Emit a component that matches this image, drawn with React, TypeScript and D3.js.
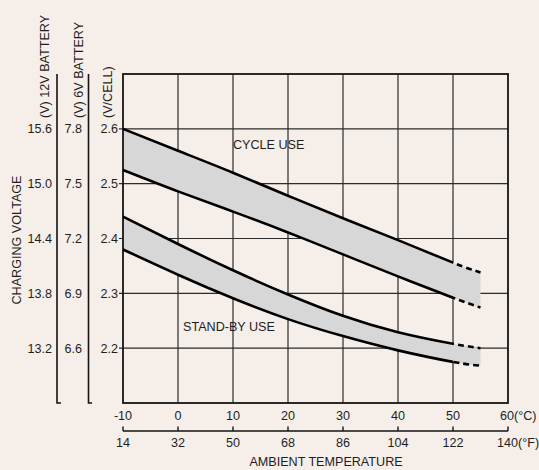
import React from "react";
import * as d3 from "d3";

const temps = [-10, 0, 10, 20, 30, 40, 50, 55];
const cycleUpper = [2.6, 2.56, 2.52, 2.478, 2.437, 2.397, 2.356, 2.338];
const cycleLower = [2.525, 2.486, 2.449, 2.411, 2.371, 2.331, 2.292, 2.274];
const standbyUpper = [2.44, 2.39, 2.342, 2.298, 2.259, 2.229, 2.208, 2.2];
const standbyLower = [2.38, 2.334, 2.291, 2.253, 2.222, 2.196, 2.175, 2.168];

const cTicks = [-10, 0, 10, 20, 30, 40, 50, 60];
const fTicks = ["14", "32", "50", "68", "86", "104", "122", "140"];
const cellTicks = [2.6, 2.5, 2.4, 2.3, 2.2];
const v12Ticks = ["15.6", "15.0", "14.4", "13.8", "13.2"];
const v6Ticks = ["7.8", "7.5", "7.2", "6.9", "6.6"];

const W = 539;
const H = 470;
const FONT = "'Liberation Sans', Arial, Helvetica, sans-serif";
const TXT = "#1e1e1e";
const FS = 12.6;

export default function App() {
  const x = d3.scaleLinear().domain([-10, 60]).range([123, 508]);
  const y = d3.scaleLinear().domain([2.1, 2.7]).range([403, 74]);

  const pts = (vals: number[]) => temps.map((t, i) => [t, vals[i]] as [number, number]);

  const line = d3
    .line<[number, number]>()
    .x((d) => x(d[0]))
    .y((d) => y(d[1]))
    .curve(d3.curveNatural);

  const band = (up: number[], lo: number[]) =>
    d3
      .area<number>()
      .x((_, i) => x(temps[i]))
      .y0((_, i) => y(lo[i]))
      .y1((_, i) => y(up[i]))
      .curve(d3.curveNatural)(temps.map((_, i) => i)) || "";

  const series = [cycleUpper, cycleLower, standbyUpper, standbyLower];
  const xSplit = x(50);

  return (
    <svg
      width={W}
      height={H}
      style={{ position: "absolute", left: 0, top: 0, display: "block" }}
      fontFamily={FONT}
    >
      <defs>
        <clipPath id="solidClip">
          <rect x={0} y={0} width={xSplit} height={H} />
        </clipPath>
        <clipPath id="dashClip">
          <rect x={xSplit} y={0} width={W - xSplit} height={H} />
        </clipPath>
      </defs>
      <rect x={0} y={0} width={W} height={H} fill="#f6eee8" />

      {/* grid */}
      {cTicks.slice(1, -1).map((t) => (
        <line key={"v" + t} x1={x(t)} x2={x(t)} y1={y(2.7)} y2={y(2.1)} stroke="#2b2b2b" strokeWidth={1.2} />
      ))}
      {cellTicks.map((v) => (
        <line key={"h" + v} x1={x(-10) - 4} x2={x(60)} y1={y(v)} y2={y(v)} stroke="#2b2b2b" strokeWidth={1.2} />
      ))}

      {/* bands */}
      <path d={band(cycleUpper, cycleLower)} fill="#d7d7d7" />
      <path d={band(standbyUpper, standbyLower)} fill="#d7d7d7" />

      {/* frame */}
      <rect x={x(-10)} y={y(2.7)} width={x(60) - x(-10)} height={y(2.1) - y(2.7)} fill="none" stroke="#151515" strokeWidth={1.8} />

      {/* curves */}
      {series.map((s, i) => (
        <g key={"s" + i}>
          <path d={line(pts(s)) || ""} fill="none" stroke="#000" strokeWidth={2.6} clipPath="url(#solidClip)" />
          <path d={line(pts(s)) || ""} fill="none" stroke="#000" strokeWidth={2.6} strokeDasharray="6,4" clipPath="url(#dashClip)" />
        </g>
      ))}

      <text x={233} y={149} fontSize={FS} fill={TXT}>CYCLE USE</text>
      <text x={183} y={331} fontSize={FS} fill={TXT}>STAND-BY USE</text>

      {/* left axes */}
      <path d={`M57,${y(2.7)}V${y(2.1)}H61`} fill="none" stroke="#151515" strokeWidth={1.6} />
      <path d={`M88.5,${y(2.7)}V${y(2.1)}H92`} fill="none" stroke="#151515" strokeWidth={1.6} />
      {cellTicks.map((v, i) => (
        <g key={"l" + v}>
          <text x={52} y={y(v)} dy="0.35em" textAnchor="end" fontSize={FS} fill={TXT}>{v12Ticks[i]}</text>
          <text x={82} y={y(v)} dy="0.35em" textAnchor="end" fontSize={FS} fill={TXT}>{v6Ticks[i]}</text>
          <text x={118} y={y(v)} dy="0.35em" textAnchor="end" fontSize={FS} fill={TXT}>{v.toFixed(1)}</text>
        </g>
      ))}
      <text transform="translate(45,118) rotate(-90)" dy="0.35em" textAnchor="start" fontSize={FS} fill={TXT}>(V) 12V BATTERY</text>
      <text transform="translate(79,118) rotate(-90)" dy="0.35em" textAnchor="start" fontSize={FS} fill={TXT}>(V) 6V BATTERY</text>
      <text transform="translate(108,118) rotate(-90)" dy="0.35em" textAnchor="start" fontSize={FS} fill={TXT}>(V/CELL)</text>
      <text transform="translate(17,240) rotate(-90)" dy="0.35em" textAnchor="middle" fontSize={FS} fill={TXT}>CHARGING VOLTAGE</text>

      {/* bottom axes */}
      {cTicks.map((t) =>
        t === 60 ? (
          <text key={"c" + t} x={x(t) - 8} y={416} dy="0.35em" fontSize={FS} fill={TXT}>60(°C)</text>
        ) : (
          <text key={"c" + t} x={x(t)} y={416} dy="0.35em" textAnchor="middle" fontSize={FS} fill={TXT}>{t}</text>
        )
      )}
      <line x1={x(-10)} x2={x(60)} y1={431} y2={431} stroke="#151515" strokeWidth={1.4} />
      {cTicks.map((t) => (
        <line key={"ft" + t} x1={x(t)} x2={x(t)} y1={426.5} y2={431} stroke="#151515" strokeWidth={1.4} />
      ))}
      {cTicks.map((t, i) =>
        i === cTicks.length - 1 ? (
          <text key={"f" + t} x={x(t) - 11} y={443} dy="0.35em" fontSize={FS} fill={TXT}>{fTicks[i]}(°F)</text>
        ) : (
          <text key={"f" + t} x={x(t)} y={443} dy="0.35em" textAnchor="middle" fontSize={FS} fill={TXT}>{fTicks[i]}</text>
        )
      )}
      <text x={326} y={462} dy="0.35em" textAnchor="middle" fontSize={FS} fill={TXT}>AMBIENT TEMPERATURE</text>
    </svg>
  );
}
